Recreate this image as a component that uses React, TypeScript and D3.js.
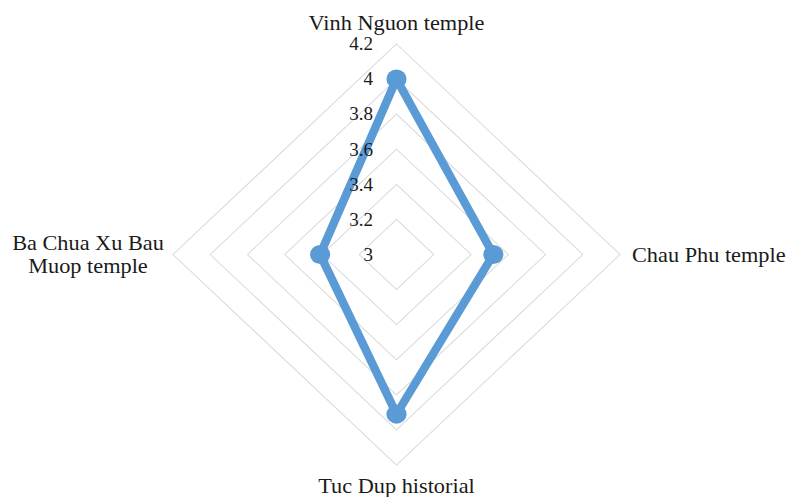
import React from "react";
import * as d3 from "d3";

const categories = ["Vinh Nguon temple", "Chau Phu temple", "Tuc Dup historial", "Ba Chua Xu Bau Muop temple"];
const values = [4.0, 3.52, 3.91, 3.41];
const ticks = [3, 3.2, 3.4, 3.6, 3.8, 4.0, 4.2];

const W = 787;
const H = 497;
const SX = 1.062;
const cx = 396.5 / SX;
const cy = 254.5;
const R = 210.5;

export default function App() {
  const r = d3.scaleLinear().domain([3, 4.2]).range([0, R]);
  const angle = (i: number) => (i * 2 * Math.PI) / categories.length;
  const pt = (i: number, v: number): [number, number] => [
    cx + r(v) * Math.sin(angle(i)),
    cy - r(v) * Math.cos(angle(i)),
  ];
  const lineGen = d3.line<[number, number]>().curve(d3.curveLinearClosed);
  const pts = values.map((v, i) => pt(i, v));
  const font = "'Liberation Serif', 'Times New Roman', serif";
  const labelColor = "#1a1a1a";

  return (
    <div style={{ position: "fixed", left: 0, top: 0 }}>
      <svg width={W} height={H} style={{ display: "block", background: "#fff" }}>
        <g transform={`scale(${SX},1)`}>
          {ticks.slice(1).map((t) => (
            <path
              key={t}
              d={lineGen(categories.map((_, i) => pt(i, t))) || ""}
              fill="none"
              stroke="#d9d9d9"
              strokeWidth={1}
            />
          ))}
          <path
            d={lineGen(pts) || ""}
            fill="none"
            stroke="#5b9bd5"
            strokeWidth={8}
            strokeLinejoin="round"
          />
          {pts.map((p, i) => (
            <circle key={i} cx={p[0]} cy={p[1]} r={9.5} fill="#5b9bd5" />
          ))}
          {ticks.map((t) => (
            <text
              key={"t" + t}
              x={cx - 22}
              y={cy - r(t)}
              dy="0.35em"
              textAnchor="end"
              fontFamily={font}
              fontSize={18}
              fill={labelColor}
            >
              {String(t)}
            </text>
          ))}
          <text x={cx} y={30} textAnchor="middle" fontFamily={font} fontSize={21} fill={labelColor}>
            {categories[0]}
          </text>
          <text x={632 / SX} y={262} textAnchor="start" fontFamily={font} fontSize={21} fill={labelColor}>
            {categories[1]}
          </text>
          <text x={cx} y={493} textAnchor="middle" fontFamily={font} fontSize={21} fill={labelColor}>
            {categories[2]}
          </text>
          <text x={88 / SX} y={250} textAnchor="middle" fontFamily={font} fontSize={21} fill={labelColor}>
            <tspan x={88 / SX}>Ba Chua Xu Bau</tspan>
            <tspan x={88 / SX} dy={23}>Muop temple</tspan>
          </text>
        </g>
      </svg>
    </div>
  );
}
